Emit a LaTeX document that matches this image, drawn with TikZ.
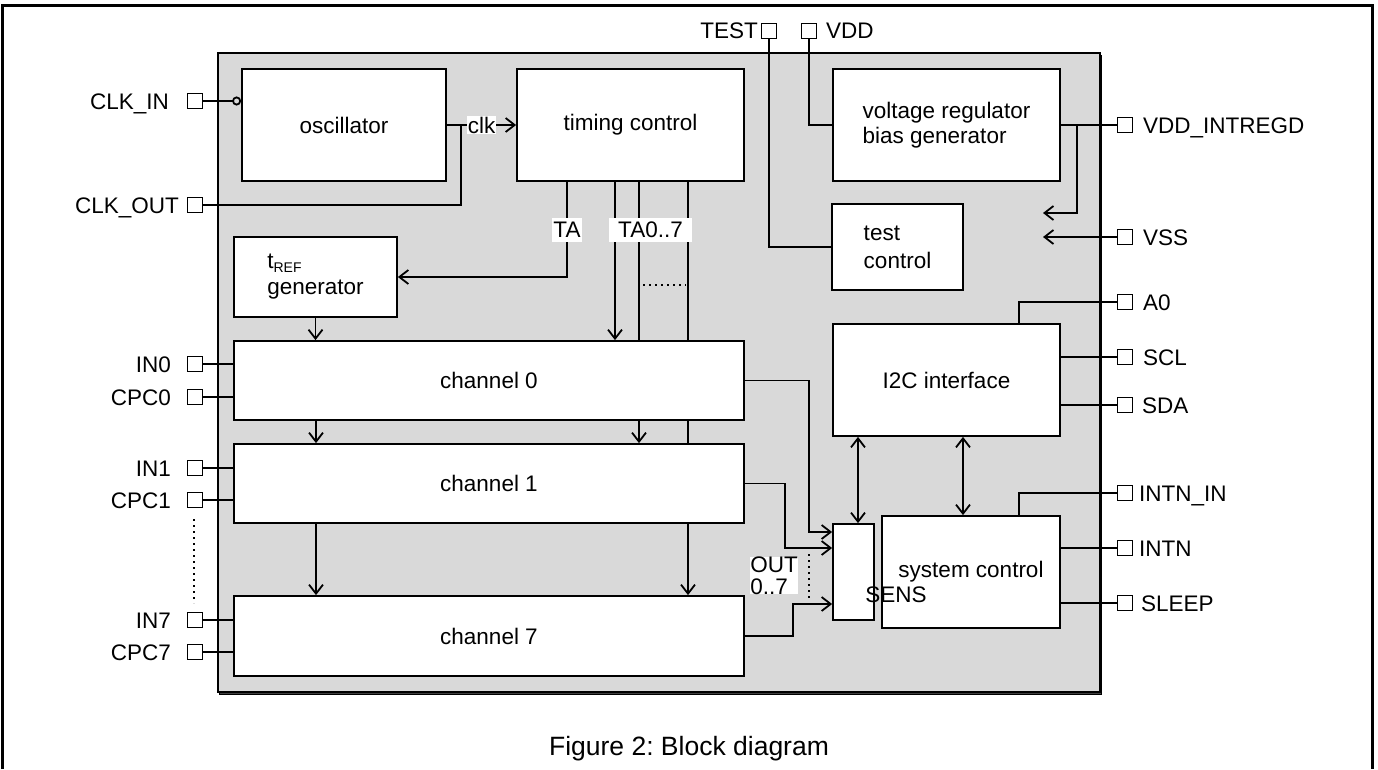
\documentclass[tikz,border=0pt]{standalone}
\usepackage{fontspec}
\setmainfont{Liberation Sans}
\usetikzlibrary{arrows.meta}
\definecolor{chipgray}{RGB}{217,217,217}
\frenchspacing

\begin{document}
\begin{tikzpicture}[x=1pt,y=-1pt,
    font=\fontsize{22.5}{25}\selectfont,
    blk/.style={draw,fill=white,line width=1.8pt,inner sep=0pt},
    pin/.style={draw,fill=white,line width=1.2pt,minimum size=15pt,inner sep=0pt},
    lbl/.style={inner sep=0pt},
    tag/.style={fill=white,inner xsep=1pt,inner ysep=4pt},
    wire/.style={line width=1.8pt},
    dots/.style={line width=1.8pt,dash pattern=on 1.8pt off 4.2pt},
    >={Straight Barb[length=9pt,width=14pt]}]
  \useasboundingbox (0,0) rectangle (1378,769);
  % frame and chip
  \draw[line width=3pt] (2,769) -- (2,5) -- (1372,5) -- (1372,769);
  \node[draw,fill=black!75,line width=1pt,minimum width=882pt,minimum height=639pt] (shadow) at (660,375) {};
  \node[draw,fill=chipgray,line width=1.8pt,minimum width=882pt,minimum height=639pt] (chip) at (659,372.5) {};

  % blocks
  \node[blk,minimum width=204pt,minimum height=112pt] (osc) at (344,125) {oscillator};
  \node[blk,minimum width=227pt,minimum height=112pt] (tim) at (630.5,125) {timing control};
  \node[blk,minimum width=227pt,minimum height=112pt,align=left] (vreg) at (946.5,125) {voltage regulator\\bias generator};
  \node[blk,minimum width=131pt,minimum height=86pt,align=left,font=\fontsize{22.5}{28}\selectfont] (test) at (897.5,247) {test\\control};
  \node[blk,minimum width=163pt,minimum height=80pt,align=left,font=\fontsize{22.5}{26}\selectfont] (tref) at (315.5,277) {t\raisebox{-4pt}{\fontsize{14}{14}\selectfont REF}\\generator};
  \node[blk,minimum width=510pt,minimum height=79pt] (ch0) at (489,380.5) {channel 0};
  \node[blk,minimum width=510pt,minimum height=79pt] (ch1) at (489,483.5) {channel 1};
  \node[blk,minimum width=510pt,minimum height=80pt] (ch7) at (489,636) {channel 7};
  \node[blk,minimum width=227pt,minimum height=112pt] (i2c) at (946.5,380) {I2C interface};
  \node[blk,minimum width=41pt,minimum height=96pt] (sens) at (853.5,572) {};
  \node[blk,minimum width=178pt,minimum height=112pt] (sys) at (971,572) {system control};
  \node[lbl] (senstxt) at (896,595) {SENS};

  % pins, left
  \node[pin] (pclkin) at (195,101) {};
  \node[pin] (pclkout) at (195,205) {};
  \node[pin] (pin0) at (195,364) {};
  \node[pin] (pcpc0) at (195,397) {};
  \node[pin] (pin1) at (195,468) {};
  \node[pin] (pcpc1) at (195,500) {};
  \node[pin] (pin7) at (195,620) {};
  \node[pin] (pcpc7) at (195,652) {};
  \node[lbl,anchor=base east] (lclkin) at (169,109) {CLK\_IN};
  \node[lbl,anchor=base east] (lclkout) at (179,213) {CLK\_OUT};
  \node[lbl,anchor=base east] (lin0) at (171,372) {IN0};
  \node[lbl,anchor=base east] (lcpc0) at (171,405) {CPC0};
  \node[lbl,anchor=base east] (lin1) at (171,476) {IN1};
  \node[lbl,anchor=base east] (lcpc1) at (171,508) {CPC1};
  \node[lbl,anchor=base east] (lin7) at (171,628) {IN7};
  \node[lbl,anchor=base east] (lcpc7) at (171,660) {CPC7};
  % pins, top
  \node[pin] (ptest) at (769,31) {};
  \node[pin] (pvdd) at (809,31) {};
  \node[lbl,anchor=base east] (ltest) at (758,38) {TEST};
  \node[lbl,anchor=base west] (lvdd) at (826,38) {VDD};
  % pins, right
  \node[pin] (pvddi) at (1125,125) {};
  \node[pin] (pvss) at (1125,237) {};
  \node[pin] (pa0) at (1125,302) {};
  \node[pin] (pscl) at (1125,357) {};
  \node[pin] (psda) at (1125,405) {};
  \node[pin] (pintnin) at (1125,493) {};
  \node[pin] (pintn) at (1125,548) {};
  \node[pin] (psleep) at (1125,603) {};
  \node[lbl,anchor=base west] (lvddi) at (1143,133) {VDD\_INTREGD};
  \node[lbl,anchor=base west] (lvss) at (1143,245) {VSS};
  \node[lbl,anchor=base west] (la0) at (1143,310) {A0};
  \node[lbl,anchor=base west] (lscl) at (1143,365) {SCL};
  \node[lbl,anchor=base west] (lsda) at (1142,413) {SDA};
  \node[lbl,anchor=base west] (lintnin) at (1139,501) {INTN\_IN};
  \node[lbl,anchor=base west] (lintn) at (1139,556) {INTN};
  \node[lbl,anchor=base west] (lsleep) at (1141,611) {SLEEP};

  % clock
  \draw[wire,-{Circle[open,length=9pt,width=9pt]}] (pclkin.east) -- (pclkin.east -| osc.west);
  \draw[wire,->] (osc.east) -- node[tag,inner ysep=1pt] (clk) {clk} (tim.west);
  \coordinate (clkj) at (461,125);
  \draw[wire] (pclkout.east) -| (clkj);
  % supply and test
  \draw[wire] (ptest.south) |- (test.west);
  \draw[wire] (pvdd.south) |- (vreg.west);
  \draw[wire] (vreg.east) -- (pvddi.west);
  \coordinate (vddin) at (1043,213);
  \coordinate (vssin) at (1043,237);
  \draw[wire,->] (1077,125) |- (vddin);
  \draw[wire,->] (pvss.west) -- (vssin);
  % timing signals
  \draw[wire,->] (567,0 |- tim.south) |- (tref.east);
  \draw[wire,->] (615,0 |- tim.south) -- (615,0 |- ch0.north);
  \draw[wire] (639,0 |- tim.south) -- (639,0 |- ch0.north);
  \draw[wire,->] (639,0 |- ch0.south) -- (639,0 |- ch1.north);
  \draw[wire] (688,0 |- tim.south) -- (688,0 |- ch0.north);
  \draw[wire] (688,0 |- ch0.south) -- (688,0 |- ch1.north);
  \draw[wire,->] (688,0 |- ch1.south) -- (688,0 |- ch7.north);
  \draw[dots] (643,285) -- (686,285);
  \node[tag] (ta) at (567,230) {TA};
  \node[tag,inner xsep=9pt] (ta07) at (650.5,230) {TA0..7};
  \draw[wire,->] (tref.south) -- (tref.south |- ch0.north);
  \draw[wire,->] (316,0 |- ch0.south) -- (316,0 |- ch1.north);
  \draw[wire,->] (316,0 |- ch1.south) -- (316,0 |- ch7.north);
  % channel inputs
  \foreach \p/\c in {pin0/ch0,pcpc0/ch0,pin1/ch1,pcpc1/ch1,pin7/ch7,pcpc7/ch7}
    \draw[wire] (\p.east) -- (\p.east -| \c.west);
  \draw[dots] (194,519) -- (194,603);
  % channel outputs
  \draw[wire,->] (ch0.east) -| (809,532) -- (sens.west |- 0,532);
  \draw[wire,->] (ch1.east) -| (785,548) -- (sens.west |- 0,548);
  \draw[wire,->] (ch7.east) -| (793,604) -- (sens.west |- 0,604);
  \draw[dots] (809,554) -- (809,601);
  \node[tag,inner sep=0pt,align=left,font=\fontsize{22.5}{22}\selectfont] (out) at (774,575.5) {OUT\\0..7};
  % i2c and system control
  \draw[wire,<->] (858,0 |- i2c.south) -- (858,0 |- sens.north);
  \draw[wire,<->] (963,0 |- i2c.south) -- (963,0 |- sys.north);
  \draw[wire] (1019,0 |- i2c.north) |- (pa0.west);
  \draw[wire] (pscl.west -| i2c.east) -- (pscl.west);
  \draw[wire] (psda.west -| i2c.east) -- (psda.west);
  \draw[wire] (1019,0 |- sys.north) |- (pintnin.west);
  \draw[wire] (pintn.west -| sys.east) -- (pintn.west);
  \draw[wire] (psleep.west -| sys.east) -- (psleep.west);

  \node[lbl,font=\fontsize{26.5}{30}\selectfont] (caption) at (689,749) {Figure 2: Block diagram};
\end{tikzpicture}
\end{document}
